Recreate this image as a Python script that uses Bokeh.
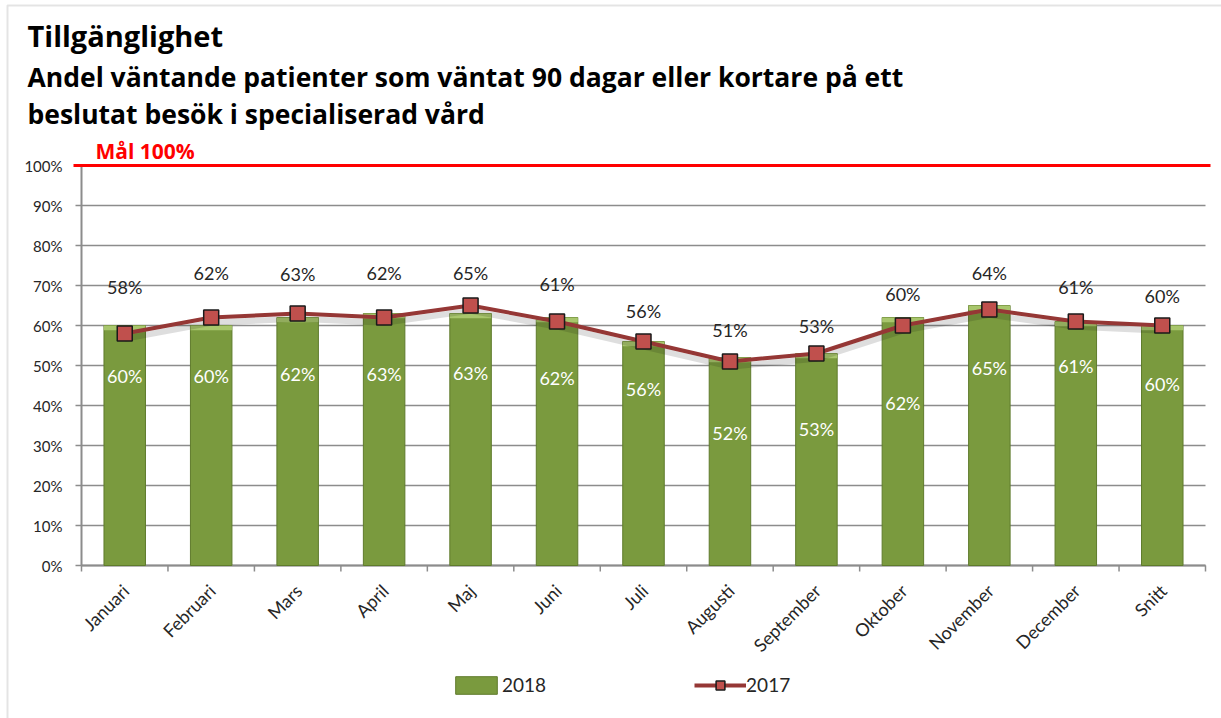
import numpy as np
from math import pi
from bokeh.plotting import figure
from bokeh.models import (ColumnDataSource, Range1d, LabelSet, Label, Legend, LegendItem,
                          BoxAnnotation)
from bokeh.core.properties import value
from bokeh.embed import file_html
from bokeh.resources import INLINE

# ---------------- data ----------------
months = ["Januari", "Februari", "Mars", "April", "Maj", "Juni", "Juli",
          "Augusti", "September", "Oktober", "November", "December", "Snitt"]
v2018 = [60, 60, 62, 63, 63, 62, 56, 52, 53, 62, 65, 61, 60]
v2017 = [58, 62, 63, 62, 65, 61, 56, 51, 53, 60, 64, 61, 60]
y_ticks = list(range(0, 101, 10))
target = 100
title1 = "Tillgänglighet"
title2 = "Andel väntande patienter som väntat 90 dagar eller kortare på ett"
title3 = "beslutat besök i specialiserad vård"
target_label = "Mål 100%"

# ---------------- label placement (style, px) ----------------
off_2017 = [47, 45, 40, 45, 33, 38, 31, 32, 28, 32, 37, 35, 30]
off_2018 = [-50, -50, -56, -60, -59, -60, -47, -75, -75, -85, -62, -44, -58]

FONT = "Lato"
TFONT = "Open Sans"
GREY = "#8c8c8c"
n = len(months)
xs = np.arange(n) + 0.5
bnds = np.arange(n + 1)

# layout: plot area from x=81..1205 and y=165 (100%)..565 (0%) on a 1221x718 canvas
W, H = 1221, 718
px_x = (1205 - 81) / n
px_y = (565 - 165) / 100.0
x_lo, x_hi = -81 / px_x, n + (W - 1205) / px_x
y_hi = 100 + 165 / px_y
y_lo = y_hi - H / px_y

src = ColumnDataSource(dict(
    x=xs, v2018=v2018, v2017=v2017, zero=[0] * n,
    cap=[v - 1.2 for v in v2018],
    shadow=[v - 1.3 for v in v2017],
    t2018=[f"{v}%" for v in v2018], t2017=[f"{v}%" for v in v2017],
    o2018=off_2018, o2017=off_2017, month=months,
))
ysrc = ColumnDataSource(dict(
    y=y_ticks, x0=[0] * len(y_ticks), x1=[n] * len(y_ticks),
    lab=[f"{t}%" for t in y_ticks],
))
bsrc = ColumnDataSource(dict(b=bnds, zero=[0] * (n + 1)))

p = figure(width=W, height=H,
           x_range=Range1d(x_lo, x_hi), y_range=Range1d(y_lo, y_hi),
           x_axis_location=None, y_axis_location=None,
           output_backend="svg", toolbar_location=None,
           min_border_left=0, min_border_right=0,
           min_border_top=0, min_border_bottom=0)
p.outline_line_color = None
p.grid.visible = False
p.background_fill_color = "white"
p.border_fill_color = "white"

# chart border (top and left edges visible)
p.add_layout(BoxAnnotation(left=x_lo + 7 / px_x, right=x_hi + 1,
                           top=y_hi - 5 / px_y, bottom=y_lo - 1,
                           fill_alpha=0, line_color="#a6a6a6", line_width=2))

# horizontal grid lines
p.segment(x0="x0", y0="y", x1="x1", y1="y", source=ysrc, line_color=GREY, line_width=1.5)
# value axis: line, ticks, labels
p.segment(x0=0, y0=y_ticks[0], x1=0, y1=y_ticks[-1], line_color=GREY, line_width=2)
p.ray(x="x0", y="y", source=ysrc, length=6, length_units="screen", angle=pi,
      line_color=GREY, line_width=1.5)
p.add_layout(LabelSet(x="x0", y="y", text="lab", source=ysrc, x_offset=-19,
                      text_align="right", text_baseline="middle",
                      text_font=value(FONT), text_font_size="15px", text_color="#262626"))
# category axis: base line, ticks between categories, rotated labels
p.segment(x0=0, y0=y_ticks[0], x1=n, y1=y_ticks[0], line_color=GREY, line_width=2)
p.ray(x="b", y="zero", source=bsrc, length=6, length_units="screen", angle=-pi / 2,
      line_color=GREY, line_width=1.5)
p.add_layout(LabelSet(x="x", y="zero", text="month", source=src,
                      angle=pi / 4, x_offset=1, y_offset=-22,
                      text_align="right", text_baseline="middle",
                      text_font=value(FONT), text_font_size="18px", text_color="#262626"))

# bars 2018
bars = p.vbar(x="x", top="v2018", bottom=0, width=0.48, source=src,
              fill_color="#7a9a3e", line_color="#5f7b2c", line_width=1)
p.vbar(x="x", top="v2018", bottom="cap", width=0.48, source=src,
       fill_color="#a8c66c", line_color=None)

# target line
p.segment(x0=-8 / px_x, y0=target, x1=n + 5 / px_x, y1=target,
          line_color="#ff0000", line_width=3)

# line 2017 (with soft shadow)
p.line(x="x", y="shadow", source=src, line_color="black", line_alpha=0.13, line_width=6)
ln = p.line(x="x", y="v2017", source=src, line_color="#953735", line_width=4)
mk = p.scatter(x="x", y="v2017", source=src, marker="square", size=15,
               fill_color="#c0504d", line_color="#1a1a1a", line_width=1.5)

# data labels
p.add_layout(LabelSet(x="x", y="v2017", text="t2017", y_offset="o2017", source=src,
                      text_align="center", text_baseline="middle",
                      text_font=value(FONT), text_font_size="18px", text_color="#262626"))
p.add_layout(LabelSet(x="x", y="v2018", text="t2018", y_offset="o2018", source=src,
                      text_align="center", text_baseline="middle",
                      text_font=value(FONT), text_font_size="18px", text_color="white"))

# titles & target text (relative to the top-left corner of the plot area)
for txt, yoff, size in [(title1, 130, "29px"), (title2, 89, "26.5px"), (title3, 52, "26.5px")]:
    p.add_layout(Label(x=0, y=target, x_offset=-54, y_offset=yoff, text=txt,
                       text_font=TFONT, text_font_size=size, text_font_style="bold",
                       text_color="black", text_baseline="alphabetic"))
p.add_layout(Label(x=0, y=target, x_offset=14, y_offset=15, text=target_label,
                   text_font=TFONT, text_font_size="21px", text_font_style="bold",
                   text_color="#ff0000", text_baseline="alphabetic"))

# legend (position in px from the bottom-left corner of the canvas)
legend = Legend(items=[LegendItem(label="2018", renderers=[bars]),
                       LegendItem(label="2017", renderers=[ln, mk])],
                orientation="horizontal", location=(450, 22),
                spacing=148, glyph_width=52, glyph_height=22, label_standoff=0,
                padding=0, margin=0, border_line_color=None, background_fill_alpha=0,
                label_text_font=FONT, label_text_font_size="19px",
                label_text_color="#262626")
p.add_layout(legend)

open("out.html", "w").write(file_html(p, INLINE))
